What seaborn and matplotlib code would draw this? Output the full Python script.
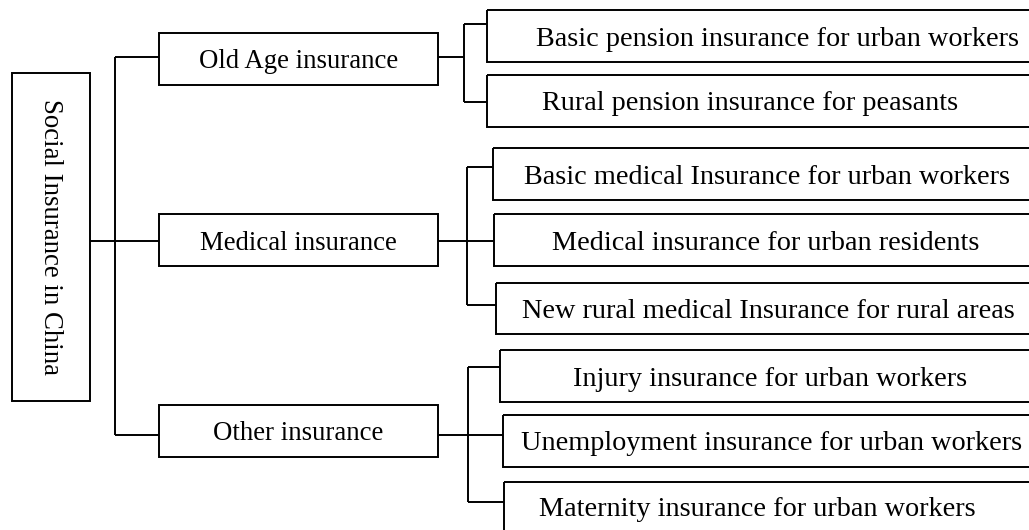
import matplotlib
matplotlib.use("Agg")
import matplotlib.pyplot as plt
from matplotlib.patches import Rectangle
import seaborn as sns

# Tree content
root_label = "Social Insurance in China"
level1_labels = ["Old Age insurance", "Medical insurance", "Other insurance"]
old_age_items = [
    "Basic pension insurance for urban workers",
    "Rural pension insurance for peasants",
]
medical_items = [
    "Basic medical Insurance for urban workers",
    "Medical insurance for urban residents",
    "New rural medical Insurance for rural areas",
]
other_items = [
    "Injury insurance for urban workers",
    "Unemployment insurance for urban workers",
    "Maternity insurance for urban workers",
]
children = [old_age_items, medical_items, other_items]

# Layout (pixel coords, y grows downwards)
ROOT_BOX = (12, 73, 90, 401)          # x0, y0, x1, y1
ROOT_LINE_Y = 241
TRUNK_X = 115
L1_X0, L1_X1 = 159, 438
L1_BOXES = [(33, 85, 57), (214, 266, 241), (405, 457, 435)]  # y0, y1, connector y
L2_SPINE_X = [464, 467, 468]
L2_RIGHT = 1045
L2_BOXES = [
    [(487, 10, 62, 24, 777), (487, 75, 127, 102, 750)],
    [(493, 148, 200, 167, 767), (494, 214, 266, 241, 766), (496, 283, 334, 305, 768)],
    [(500, 350, 402, 367, 770), (503, 415, 467, 435, 772), (504, 482, 532, 502, 757)],
]  # x0, y0, y1, connector y, text centre x

LW = 1.4
FONT = ["Liberation Serif", "DejaVu Serif"]
FS1 = 19.3   # root + level 1
FS2 = 20.3   # leaves
DY = 3       # nudge text down so caps sit mid-box

sns.set_theme(style="white")
plt.rcParams["font.family"] = FONT
plt.rcParams["text.color"] = "black"

fig = plt.figure(figsize=(10.29, 5.30), dpi=100)
ax = fig.add_axes([0, 0, 1, 1])
ax.set_xlim(0, 1029)
ax.set_ylim(530, 0)
ax.axis("off")


def box(x0, y0, x1, y1):
    ax.add_patch(Rectangle((x0, y0), x1 - x0, y1 - y0, fill=False,
                           edgecolor="black", linewidth=LW))


def line(xs, ys):
    ax.plot(xs, ys, color="black", linewidth=LW, solid_capstyle="butt")


# root
box(*ROOT_BOX)
ax.text((ROOT_BOX[0] + ROOT_BOX[2]) / 2 - 1, (ROOT_BOX[1] + ROOT_BOX[3]) / 2,
        root_label, rotation=-90, ha="center", va="center", fontsize=FS1)
line([ROOT_BOX[2], TRUNK_X], [ROOT_LINE_Y, ROOT_LINE_Y])
line([TRUNK_X, TRUNK_X], [L1_BOXES[0][2], L1_BOXES[-1][2]])

for i, label in enumerate(level1_labels):
    y0, y1, cy = L1_BOXES[i]
    line([TRUNK_X, L1_X0], [cy, cy])
    box(L1_X0, y0, L1_X1, y1)
    ax.text((L1_X0 + L1_X1) / 2, (y0 + y1) / 2 + DY, label,
            ha="center", va="center", fontsize=FS1)

    sx = L2_SPINE_X[i]
    line([L1_X1, sx], [cy, cy])
    items = children[i]
    lay = L2_BOXES[i]
    line([sx, sx], [lay[0][3], lay[-1][3]])
    for item, (bx0, by0, by1, bcy, tx) in zip(items, lay):
        line([sx, bx0], [bcy, bcy])
        box(bx0, by0, L2_RIGHT, by1)
        ax.text(tx, (by0 + by1) / 2 + DY, item, ha="center", va="center",
                fontsize=FS2)

fig.savefig("out.png", dpi=100, facecolor="white")
